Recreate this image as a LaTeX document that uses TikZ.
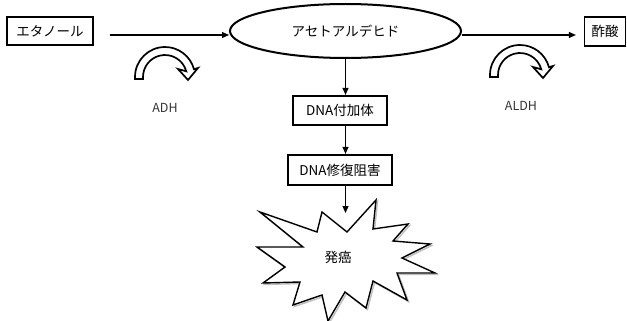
\documentclass[tikz,border=0pt]{standalone}
\usepackage{fontspec}
\setmainfont{Noto Sans CJK JP}
\usetikzlibrary{arrows.meta,shapes.geometric}
\newcommand\bendarrow[2]{%
  \path[curvearr, shift={(#1,#2)}] (-30,2) -- (-30,0) arc[start angle=180,end angle=345,radius=30]
    -- (33,-9) -- (23,3) -- (13,-8) -- ({22*cos(345)},{22*sin(345)})
    arc[start angle=345,end angle=180,radius=22] -- (-22,2) -- cycle;}
\def\burstpath{(347,232) -- (376,200) -- (373,229) -- (408,224) -- (393,241) -- (430,244)
  -- (402,258) -- (435,273) -- (397,273) -- (407,300) -- (373,281) -- (366,308)
  -- (345,292) -- (328,321) -- (322,295) -- (293,305) -- (300,282) -- (263,283)
  -- (285,267) -- (257,247) -- (303,247) -- (260,212) -- (317,232) -- (322,212) -- cycle}
\begin{document}
\begin{tikzpicture}[x=1pt,y=-1pt,
  every node/.style={font=\fontsize{13.5}{16}\selectfont, text=black},
  thinbox/.style={draw, line width=1.2pt, inner sep=0pt},
  thickbox/.style={draw, line width=2.2pt, inner sep=0pt},
  arr/.style={line width=1.1pt, -{Triangle[length=7pt,width=6pt]}},
  curvearr/.style={draw, line width=1.7pt, fill=white, line join=miter},
  enz/.style={font=\fontsize{12.5}{15}\selectfont, text=black!80},
  burstline/.style={line width=1.4pt, line join=miter}]
\useasboundingbox (0,0) rectangle (627,321);
% nodes
\node[thinbox, minimum width=86pt, minimum height=28pt] (eth) at (50,31) {エタノール};
\node[draw, ellipse, line width=2pt, minimum width=231pt, minimum height=54pt, inner sep=0pt] (ell) at (345.5,31) {アセトアルデヒド};
\node[thinbox, minimum width=41pt, minimum height=29pt] (acid) at (605,31.5) {酢酸};
\node[thickbox, minimum width=94pt, minimum height=29pt] (b1) at (340,110.5) {DNA付加体};
\node[thickbox, minimum width=104pt, minimum height=30pt] (b2) at (340,170) {DNA修復阻害};
% starburst
\draw[burstline, black!25, shift={(1.5,1.5)}] \burstpath;
\draw[burstline, fill=white] \burstpath;
\node (burst) at (338,257) {発癌};
\coordinate (bt) at (345.5,213);
% enzymes
\bendarrow{165}{77}
\bendarrow{520}{75}
\node[enz] (adh) at (165,108) {ADH};
\node[enz] (aldh) at (521,106) {ALDH};
% connectors
\draw[arr, shorten <=16pt] ([yshift=-4pt]eth.east) -- ([yshift=-4pt]eth.east -| ell.west);
\draw[arr, shorten >=8pt] ([yshift=-4pt]ell.east) -- ([yshift=-4pt]ell.east -| acid.west);
\draw[arr] (ell.south) -- (ell.south |- b1.north);
\draw[arr] (ell.south |- b1.south) -- (ell.south |- b2.north);
\draw[arr] (ell.south |- b2.south) -- (bt);
\end{tikzpicture}
\end{document}
